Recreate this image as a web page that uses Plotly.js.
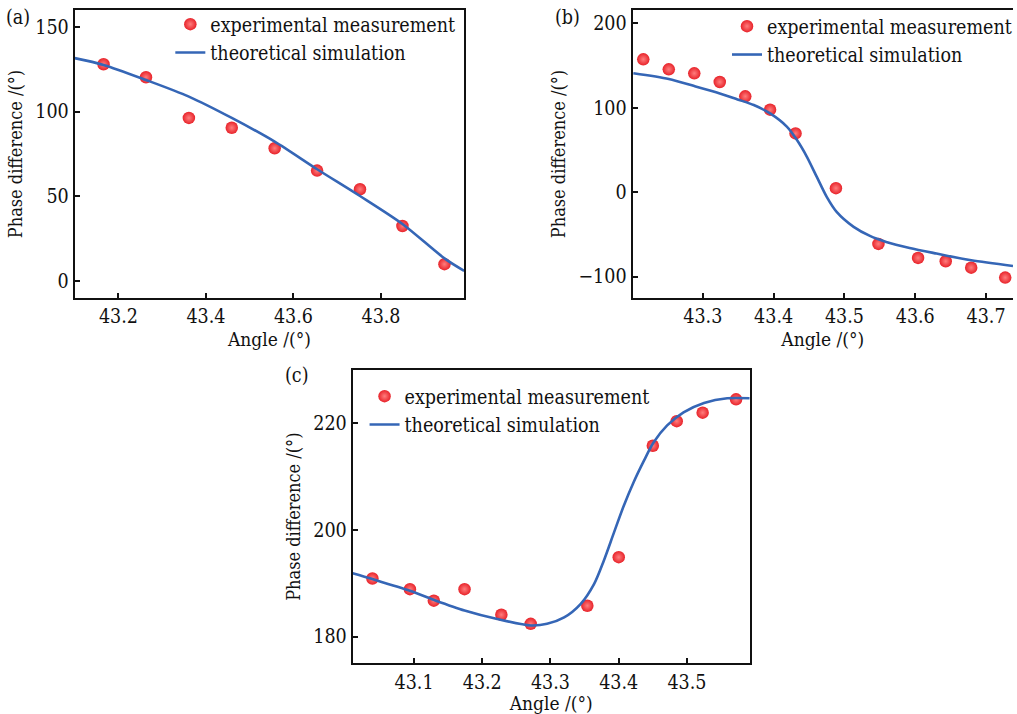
<!DOCTYPE html>
<html>
<head>
<meta charset="utf-8">
<script src="https://cdn.plot.ly/plotly-3.0.1.min.js"></script>
<style>html,body{margin:0;padding:0;background:#fff;}#chart{width:1017px;height:714px;}</style>
</head>
<body>
<div id="chart"></div>
<script>
// ---- Panel (a) ----
const aExpAngle = [43.166, 43.263, 43.361, 43.459, 43.557, 43.654, 43.752, 43.849, 43.945];
const aExpPhase = [128, 120.3, 96.3, 90.5, 78.4, 65.2, 54.2, 32.5, 10];
const aSimAngle = [43.10, 43.166, 43.263, 43.361, 43.459, 43.557, 43.654, 43.752, 43.849, 43.945, 43.99];
const aSimPhase = [131.6, 127.6, 118.7, 108.9, 96.3, 82.3, 66, 50.2, 33.7, 13.4, 6];

// ---- Panel (b) ----
const bExpAngle = [43.216, 43.252, 43.288, 43.324, 43.360, 43.395, 43.431, 43.488, 43.548, 43.604, 43.643, 43.679, 43.727];
const bExpPhase = [157.4, 145.5, 140.8, 130.5, 113.5, 97.7, 69.6, 4.7, -61.3, -77.9, -81.8, -89.4, -101.2];
const bSimAngle = [43.202, 43.252, 43.288, 43.324, 43.349, 43.372, 43.395, 43.419, 43.433, 43.447, 43.461, 43.475, 43.489, 43.513, 43.536, 43.559, 43.592, 43.630, 43.679, 43.738];
const bSimPhase = [140.8, 134, 125.7, 117, 109.9, 103.2, 93.3, 77.4, 61.7, 41.9, 18.1, -5.6, -23.4, -41.1, -51.8, -58.9, -66.1, -72.7, -80.7, -87.4];

// ---- Panel (c) ----
const cExpAngle = [43.039, 43.094, 43.129, 43.174, 43.228, 43.271, 43.354, 43.400, 43.450, 43.485, 43.523, 43.572];
const cExpPhase = [190.9, 188.9, 186.75, 188.9, 184.1, 182.4, 185.8, 194.9, 215.8, 220.4, 222, 224.5];
const cSimAngle = [43.010, 43.039, 43.094, 43.129, 43.174, 43.222, 43.271, 43.295, 43.320, 43.344, 43.364, 43.378, 43.393, 43.407, 43.422, 43.437, 43.451, 43.471, 43.495, 43.525, 43.559, 43.592];
const cSimPhase = [191.9, 190.8, 188.6, 186.9, 184.9, 183.3, 182.1, 182.4, 183.6, 186.1, 189.9, 194.2, 199.5, 204.4, 209.0, 213.0, 216.4, 219.6, 222.05, 223.8, 224.7, 224.7];

const expName = 'experimental measurement';
const simName = 'theoretical simulation';
const panelLabels = ['(a)', '(b)', '(c)'];
const xTitle = 'Angle /(°)';
const yTitle = 'Phase difference /(°)';

const FONT = "'DejaVu Serif Condensed', 'DejaVu Serif', 'Liberation Serif', serif";
const RED = '#e8232a';
const BLUE = '#3566b6';

function expTrace(x, y, xa, ya, lg) {
  return {x: x, y: y, xaxis: xa, yaxis: ya, legend: lg, name: expName, type: 'scatter', mode: 'markers',
    marker: {size: 12.5, color: RED, line: {width: 0}, gradient: {type: 'radial', color: '#ff7d7d'}}};
}
function simTrace(x, y, xa, ya, lg) {
  return {x: x, y: y, xaxis: xa, yaxis: ya, legend: lg, name: simName, type: 'scatter', mode: 'lines',
    line: {color: BLUE, width: 2.6, shape: 'spline', smoothing: 0.8}};
}

const data = [
  expTrace(aExpAngle, aExpPhase, 'x', 'y', 'legend'),
  simTrace(aSimAngle, aSimPhase, 'x', 'y', 'legend'),
  expTrace(bExpAngle, bExpPhase, 'x2', 'y2', 'legend2'),
  simTrace(bSimAngle, bSimPhase, 'x2', 'y2', 'legend2'),
  expTrace(cExpAngle, cExpPhase, 'x3', 'y3', 'legend3'),
  simTrace(cSimAngle, cSimPhase, 'x3', 'y3', 'legend3')
];

function xAxis(domain, range, dtick, tick0, anchor, mirror) {
  return {domain: domain, range: range, dtick: dtick, tick0: tick0, anchor: anchor,
    showline: true, linecolor: '#111', linewidth: 2, mirror: mirror,
    ticks: 'inside', ticklen: 5, tickwidth: 2, tickcolor: '#111',
    showgrid: false, zeroline: false,
    tickfont: {family: FONT, size: 19.5, color: '#111'},
    title: {text: xTitle, font: {family: FONT, size: 19, color: '#111'}, standoff: 0}};
}
function yAxis(domain, range, dtick, tick0, anchor, mirror) {
  return {domain: domain, range: range, dtick: dtick, tick0: tick0, anchor: anchor,
    showline: true, linecolor: '#111', linewidth: 2, mirror: mirror,
    ticks: 'inside', ticklen: 5, tickwidth: 2, tickcolor: '#111',
    showgrid: false, zeroline: false,
    tickfont: {family: FONT, size: 19.5, color: '#111'},
    title: {text: yTitle, font: {family: FONT, size: 18, color: '#111'}, standoff: 8}};
}

function legendAt(xpx, ypx) {
  return {x: xpx / 1017, y: 1 - ypx / 714, xanchor: 'left', yanchor: 'top', xref: 'paper', yref: 'paper',
    bgcolor: 'rgba(0,0,0,0)', borderwidth: 0, tracegroupgap: 0,
    font: {family: FONT, size: 19.5, color: '#111'}};
}

const layout = {
  width: 1017, height: 714,
  margin: {l: 0, r: 0, t: 0, b: 0},
  paper_bgcolor: '#fff', plot_bgcolor: '#fff',
  showlegend: true,
  xaxis: xAxis([0.0737, 0.4582], [43.1, 43.99], 0.2, 43.2, 'y', true),
  yaxis: yAxis([0.5826, 0.986], [-10, 160], 50, 0, 'x', true),
  xaxis2: xAxis([0.6244, 1], [43.2008, 43.738], 0.1, 43.3, 'y2', true),
  yaxis2: yAxis([0.5826, 0.986], [-125.4, 215.8], 100, 0, 'x2', false),
  xaxis3: xAxis([0.3481, 0.7401], [43.01, 43.592], 0.1, 43.1, 'y3', true),
  yaxis3: yAxis([0.071, 0.4818], [175, 230], 20, 180, 'x3', true),
  legend: legendAt(171, 5),
  legend2: legendAt(730, 7),
  legend3: legendAt(366, 377),
  annotations: [
    {text: panelLabels[0], x: 4 / 1017, y: 1 - 4 / 714, xref: 'paper', yref: 'paper', xanchor: 'left', yanchor: 'top', showarrow: false, font: {family: FONT, size: 19.5, color: '#111'}},
    {text: panelLabels[1], x: 555 / 1017, y: 1 - 4 / 714, xref: 'paper', yref: 'paper', xanchor: 'left', yanchor: 'top', showarrow: false, font: {family: FONT, size: 19.5, color: '#111'}},
    {text: panelLabels[2], x: 284 / 1017, y: 1 - 362 / 714, xref: 'paper', yref: 'paper', xanchor: 'left', yanchor: 'top', showarrow: false, font: {family: FONT, size: 19.5, color: '#111'}}
  ]
};

Plotly.newPlot('chart', data, layout, {staticPlot: true, displayModeBar: false});
</script>
</body>
</html>
